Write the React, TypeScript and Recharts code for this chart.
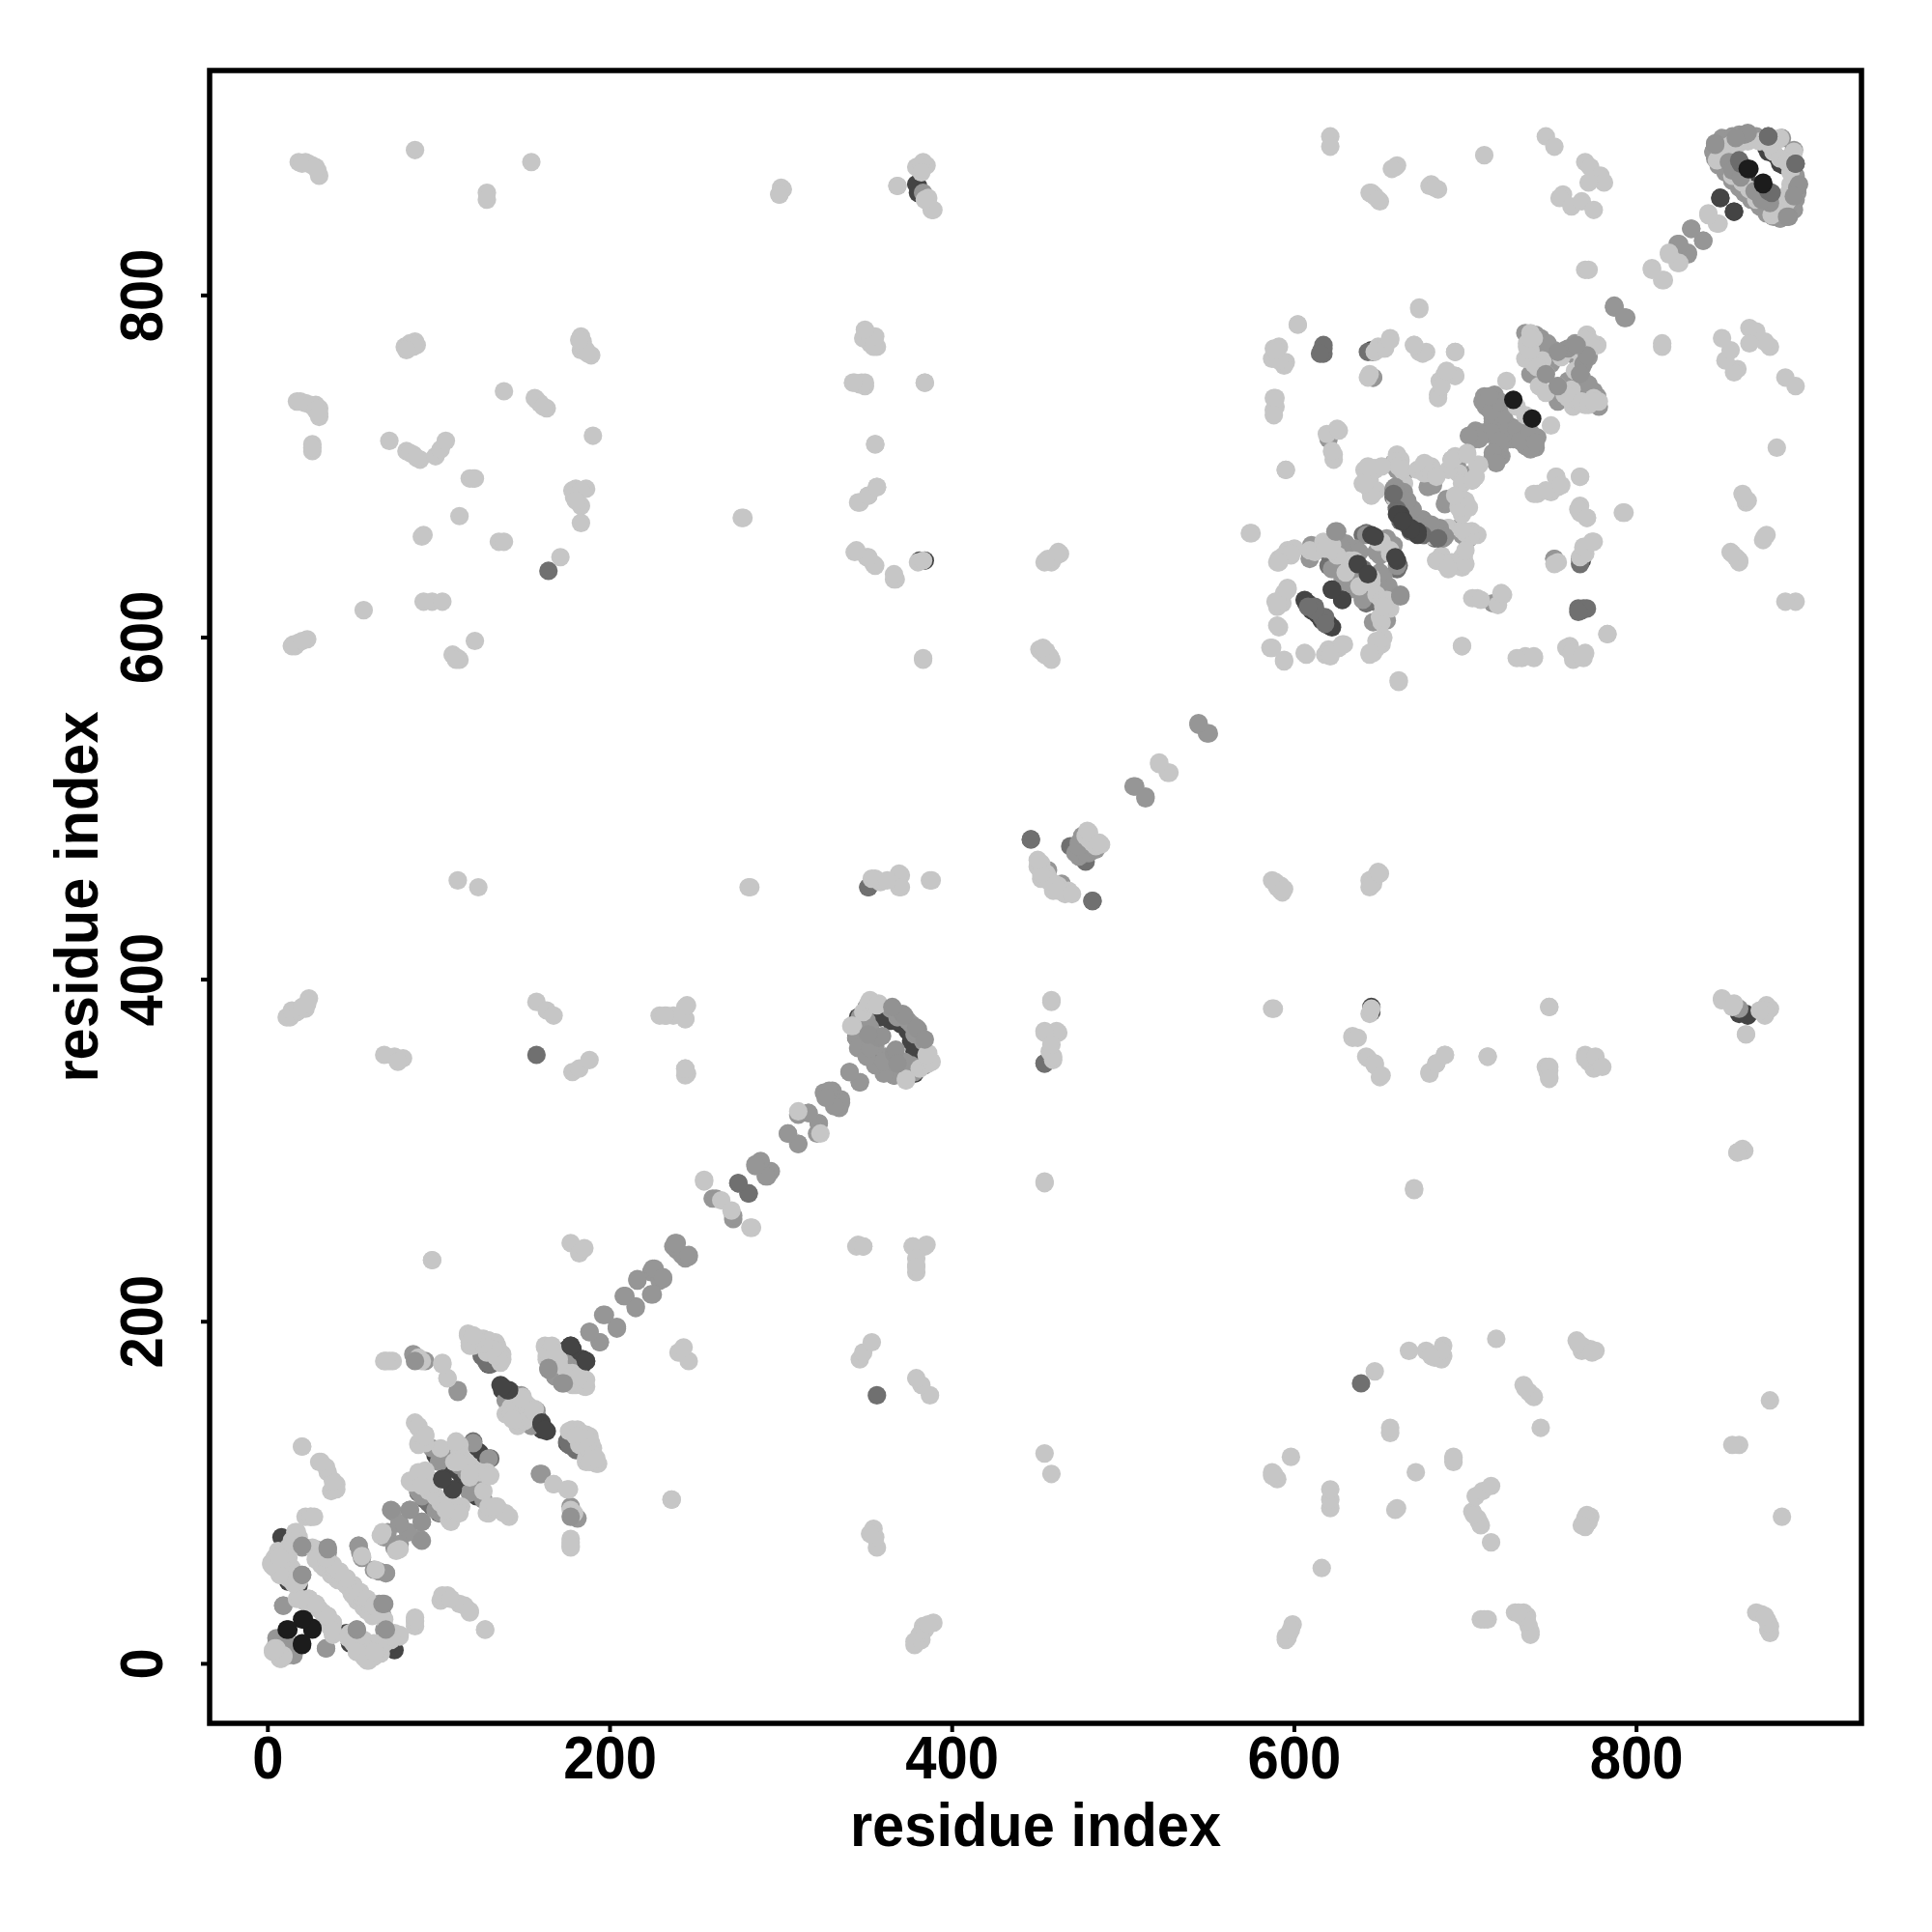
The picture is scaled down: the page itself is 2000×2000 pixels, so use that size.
import React from 'react';
import { ScatterChart, Scatter, XAxis, YAxis, ReferenceArea } from 'recharts';

type Pair = [number, number];

// Contacts between residues [i, j]; the map is symmetric, so each contact is drawn at (i,j) and (j,i).
const paleContacts: Pair[] = [
  [18,878],[22,878],[26,876],[29,873],[30,870],[20,877],[24,877],[28,875],[86,885],[128,860],[128,856],[154,878],[299,859],[301,862],
  [368,864],[379,875],[381,876],[385,876],[383,878],[389,850],[386,857],
  [17,738],[22,737],[28,736],[30,734],[30,729],[19,738],[25,736],[29,732],[28,733],[30,731],[26,713],[26,709],[26,711],[71,715],[81,709],[85,707],[89,704],[83,708],[87,705],[98,706],[101,710],[104,715],
  [118,693],[121,693],[120,693],[138,744],[156,740],[159,737],[163,734],[157,739],[161,735],[190,718],[180,687],[186,687],[179,682],[183,677],[183,667],[178,686],[183,686],[180,680],
  [91,660],[90,659],[112,671],[135,656],[138,656],[171,647],[56,616],[91,621],[96,621],[102,621],[121,598],[108,590],[111,588],[112,587],[109,589],[110,587],
  [14,595],[18,597],[23,599],[15,596],[16,595],[20,598],[80,770],[83,772],[86,773],[87,771],[82,770],[84,771],[85,770],[81,768],[183,776],[184,773],[189,765],[183,768],[184,771],[186,768],[187,766],[182,774],
  [348,775],[356,770],[349,775],[352,772],[354,770],[343,749],[347,749],[349,747],[346,748],[384,749],[355,713],[356,688],[351,683],[345,679],[278,670],
  [343,650],[350,647],[355,642],[367,634],[380,644],[383,587],[451,593],[454,590],[458,587],[455,592],[452,592],[456,589],[454,644],[459,646],[463,649],[456,646],[458,644],[461,648],
  [621,893],[621,887],[659,875],[660,876],[657,874],[644,860],[647,858],[650,855],[646,859],[645,860],[649,856],[679,864],[684,862],[680,865],[682,863],[711,882],[747,893],[752,887],
  [770,878],[773,875],[779,870],[757,859],[755,857],[762,852],[768,855],[775,850],[781,866],[772,866],[770,815],[772,815],
  [602,783],[588,769],[591,770],[595,761],[587,763],[649,770],[656,775],[652,769],[644,754],[673,793],[670,771],[673,767],[677,767],
  [694,767],[688,754],[685,750],[684,742],[694,753],[588,740],[588,733],[625,722],[619,719],[623,707],[595,698],
  [647,699],[641,698],[640,690],[645,683],[660,705],[662,703],[664,690],[659,681],[690,664],[704,662],[707,660],[677,700],[681,698],
  [642,695],[644,692],[646,698],[648,686],[643,688],[659,703],[661,700],[663,698],[672,698],[676,696],[680,700],[696,696],[698,690],[702,676],[696,680],[706,694],
  [692,704],[701,708],[707,701],[694,683],[724,750],[730,735],[735,763],[743,747],[754,747],[771,777],[777,771],[778,738],[775,740],
  [736,770],[738,766],[760,740],[762,745],[758,742],[768,738],[772,736],[775,738],[756,764],[760,768],[765,768],[770,772],[772,774],[774,770],
  [617,656],[609,651],[596,651],[591,646],[632,645],[645,635],[630,638],[649,656],[656,651],[596,629],[589,621],[590,607],[586,594],[594,587],
  [648,625],[651,622],[654,622],[598,648],[600,652],[594,648],[590,644],[593,620],[590,618],[594,626],[650,612],[652,618],
  [606,591],[621,590],[628,596],[647,593],[649,598],[644,591],[661,575],[698,595],[704,623],[709,622],[721,626],[735,589],[740,589],[730,588],
  [783,602],[759,594],[762,591],[768,589],[767,647],[769,653],[774,656],[752,643],[683,645],[690,641],[698,647],[700,643],[700,651],
  [740,684],[747,686],[753,694],[767,694],[756,689],[766,675],[771,670],[792,673],[574,661],
  [96,236],[177,246],[182,240],[185,243],[162,186],[163,178],[185,162],[180,163],[182,169],[117,192],[126,190],[133,188],[137,181],[118,186],
  [165,183],[168,180],[164,181],[170,178],[175,170],[178,166],[182,164],[186,166],[168,182],[120,190],[122,188],[124,190],[128,188],[130,186],[132,184],[134,186],[135,183],
  [71,177],[68,177],[90,177],[102,176],[105,167],[167,105],[175,102],[179,88],[177,73],[177,69],[236,96],
  [139,146],[147,142],[149,156],[142,150],[146,147],[150,145],[143,143],[152,151],[155,148],[178,137],[189,129],[193,117],[186,120],[182,128],[176,136],[180,133],[184,132],[187,126],[190,122],[188,118],[192,120],
  [86,141],[90,135],[88,129],[101,126],[109,118],[110,129],[88,128],[91,132],[88,138],[92,134],[114,120],[116,118],[118,116],[124,112],[128,112],
  [118,111],[130,110],[129,92],[139,88],[133,92],[86,107],[91,112],[83,107],[94,102],[101,94],[113,92],[106,84],[109,90],[90,108],[92,104],[98,98],[105,96],[108,94],[112,88],[104,90],
  [20,127],[30,118],[35,112],[40,105],[37,101],[25,86],[22,86],[66,75],[77,67],[55,63],
  [16,77],[2,59],[8,56],[12,52],[16,47],[6,66],[26,68],[31,58],[37,52],[43,49],[49,41],[54,37],[58,32],[74,18],[77,17],
  [29,62],[33,56],[36,54],[40,50],[46,46],[48,44],[52,40],[55,36],[57,34],[60,30],[61,28],[34,60],[38,56],[42,53],[46,50],[50,46],[54,42],[58,38],[62,34],
  [4,62],[6,58],[10,60],[8,64],[12,68],[14,72],[12,62],[14,56],[10,52],[14,50],[18,48],[4,56],[7,52],
  [50,12],[54,8],[56,5],[60,4],[55,12],[50,18],[57,3],[60,8],[64,9],[66,12],[70,14],[72,16],
  [32,30],[34,26],[36,22],[38,24],[30,32],[24,38],[3,8],[7,3],[9,5],
  [17,38],[22,37],[28,35],[35,28],[38,19],[4,9],[8,4],[47,15],[52,7],[58,2],[62,7],
  [102,40],[107,38],[115,34],[118,31],[127,20],[86,25],[86,27],
  [354,386],[348,381],[351,386],[357,386],[386,353],[388,352],[385,356],[373,342],[341,373],[323,310],[265,271],[255,283],[282,255],
  [233,379],[244,384],[244,377],[229,379],[244,348],[244,344],[345,245],[348,244],[377,244],[385,245],[379,237],[379,232],
  [13,378],[17,381],[24,389],[22,383],[11,378],[14,382],[18,382],[20,384],[23,386],[68,356],[74,355],[79,354],[76,352],[157,387],[163,382],[167,379],[178,346],[182,348],[188,353],
  [454,281],[670,277],[863,300],[859,299],[588,383],[634,366],[637,366],[645,383],[643,354],[647,351],[651,344],
  [679,346],[683,351],[688,356],[713,355],[749,384],[749,349],[749,342],[776,355],[780,349],[850,388],[856,384],[875,382],[872,382],[864,368],
  [458,387],[454,370],[461,370],[459,353],[457,358],[111,458],[123,454],[282,454],[355,459],[369,462],[369,454],[362,458],[388,458],
  [589,457],[594,453],[645,455],[650,462],[452,468],[455,462],[459,452],[466,450],[487,479],[452,466],[456,460],[458,456],[462,452],[450,470],[478,484],[482,480],[480,486],
  [521,526],[527,521],[842,848],[847,842],[847,879],[884,892],[819,825],[824,819],[809,816],[815,809],
  [848,886],[855,888],[860,892],[865,890],[880,884],[888,878],[890,872],[889,860],[886,856],[884,850],[870,856],[866,862],[858,870],[852,880],[849,882],[878,892],
];

const midContacts: Pair[] = [
  [383,860],[646,752],[681,689],[678,688],[689,680],[695,701],[704,692],[700,679],
  [672,668],[680,662],[684,660],[696,664],[698,660],[702,658],
  [625,653],[628,650],[630,655],[634,640],[636,634],[640,628],[644,628],[642,632],[636,652],[638,650],
  [707,720],[713,719],[720,711],[721,706],[711,741],[717,742],[721,733],[727,723],[735,778],[741,777],[764,772],
  [712,735],[716,728],[718,735],[722,726],[724,720],[726,716],[730,722],[735,716],[738,710],[732,715],[738,720],[741,714],[715,720],[718,706],[740,770],[744,775],[746,772],[750,766],[758,768],[762,766],[766,756],[768,752],[770,746],[772,742],[772,748],[750,760],[754,738],[742,758],[764,770],[706,716],[716,708],[702,718],
  [787,794],[793,787],[716,620],[752,646],[159,111],[177,92],[120,129],[90,98],
  [626,640],[628,636],[634,632],[632,628],[640,622],[652,628],[656,622],[610,654],[622,652],[650,648],[654,652],[658,654],[646,609],[655,618],
  [224,229],[231,225],[216,224],[225,216],[209,215],[215,208],[196,204],[204,197],[188,194],[194,188],[239,242],[244,237],[238,246],[246,239],[226,231],
  [166,172],[168,168],[172,166],[174,176],[85,181],[111,160],[157,148],[154,139],[77,82],[89,73],[82,77],[70,77],[74,68],
  [104,124],[108,120],[112,116],[122,108],[124,106],[126,96],[118,100],[88,101],[5,12],[8,10],[12,8],[14,7],[10,14],
  [53,69],[54,65],[62,55],[69,53],[35,65],[67,28],[68,20],[9,34],[34,9],[11,11],[15,5],
  [364,383],[361,355],[380,348],[344,374],[344,366],[346,378],[345,360],[352,362],[368,378],[374,376],[380,368],[372,352],[376,350],[384,350],[355,350],[360,352],
  [340,346],[346,340],[325,334],[330,335],[335,328],[331,326],[310,321],[316,322],[322,316],[304,310],[310,304],
  [288,293],[294,288],[285,292],[291,285],[260,272],[272,262],[464,456],[507,513],[513,506],[544,549],[550,544],[472,474],[474,480],[478,474],[484,476],
  [845,884],[856,893],[880,846],[832,839],[839,832],[824,830],[830,825],[787,793],[892,885],
  [868,892],[848,880],[851,876],[856,871],[859,866],[863,860],[867,856],[872,852],[876,848],[884,845],[892,850],[890,854],[894,860],[893,870],
];

const slateContacts: Pair[] = [
  [164,639],[157,356],[454,351],[617,769],[617,766],[646,767],[768,616],[771,617],[766,615],[767,643],[745,768],[642,661],[130,120],[175,130],
  [96,92],[446,482],[469,478],[476,476],[482,446],[351,454],[275,281],[281,275],[620,642],[621,647],
  [666,666],[672,664],[682,658],[624,645],[626,644],[640,640],[646,630],[650,624],[612,618],[616,612],[618,608],[640,660],[654,650],
  [738,772],[744,770],[768,746],[770,740],[764,752],[88,100],[92,96],[94,94],[142,158],[146,156],[156,142],[148,146],[125,180],[127,178],[131,176],[176,128],
];

const darkContacts: Pair[] = [
  [380,864],[645,768],[650,769],[606,622],[610,618],[614,613],[645,622],[638,628],
  [129,175],[124,123],[9,72],[68,11],
  [384,645],[860,380],[865,379],[645,381],[348,361],[884,877],
  [346,368],[348,372],[350,358],[355,354],[362,348],[366,344],[372,344],[378,345],[364,376],[370,374],[376,368],[382,360],[382,352],[358,378],
  [608,620],[612,615],[616,610],[620,607],[640,638],[648,622],[676,660],[768,742],[738,774],
  [102,122],[106,116],[112,112],[114,108],[120,100],[122,98],[158,143],[143,158],[137,160],[178,184],[175,184],[184,178],
  [10,68],[10,70],[8,74],[12,48],[18,46],[66,9],[70,12],[64,6],[70,11],
  [846,886],[850,888],[852,883],[858,876],[862,864],[866,861],[870,864],[876,886],[880,883],[885,848],[880,849],
];

// Marks lying over the pale ones.
const upperGreyContacts: Pair[] = [
  [846,889],[854,878],[863,894],[895,865],[892,858],[888,846],[873,856],[861,869],
  [357,366],[371,380],[367,359],[379,372],[384,365],[368,351],
  [625,662],[660,642],[662,624],[769,760],[754,767],[747,754],[771,765],
  [20,52],[20,69],[35,68],[67,35],[52,20],[72,90],[83,90],[90,83],[164,173],[172,164],[86,177],
  [664,685],[669,675],[675,669],[658,687],[677,661],[688,659],[666,680],
];
const upperSlateContacts: Pair[] = [[893,877],[877,893],[877,861],[860,879],[660,675],[658,684],[662,668]];
const upperDarkContacts: Pair[] = [
  [645,660],[637,643],[659,647],[622,628],[628,622],[662,672],[660,672],[664,668],[668,663],
  [102,108],[108,102],[136,163],[140,160],[160,141],[162,137],[177,186],[186,177],[849,857],[857,849],
];
const blackContacts: Pair[] = [[728,739],[865,874],[874,866],[21,26],[11,20],[26,20],[20,12]];

const tickValues = [0, 200, 400, 600, 800];
const xDomain: [number, number] = [-34.05, 931.5];
const yDomain: [number, number] = [-34.8, 931.5];

const both = (pairs: Pair[]) => pairs.flatMap(([i, j]) => [{ x: i, y: j }, { x: j, y: i }]);

const font = '"Liberation Sans", Arial, sans-serif';

const dot = (fill: string) => (p: any) => <circle cx={p.cx} cy={p.cy} r={9.6} fill={fill} />;

const XTick = (p: any) => (
  <text
    transform={`translate(${p.x},${p.y + 46}) scale(1,1.1)`}
    textAnchor="middle"
    fontFamily={font}
    fontWeight="bold"
    fontSize={58}
    fill="#000"
  >
    {p.payload.value}
  </text>
);
const YTick = (p: any) => (
  <text
    transform={`translate(${p.x - 38},${p.y}) rotate(-90) scale(1,1.1)`}
    textAnchor="middle"
    fontFamily={font}
    fontWeight="bold"
    fontSize={58}
    fill="#000"
  >
    {p.payload.value}
  </text>
);

const XLabel = (p: any) => (
  <text
    transform={`translate(${p.viewBox.x + p.viewBox.width / 2},1911) scale(1,1.06)`}
    textAnchor="middle"
    fontFamily={font}
    fontWeight="bold"
    fontSize={59.6}
    fill="#000"
  >
    residue index
  </text>
);
const YLabel = (p: any) => (
  <text
    transform={`translate(101,${p.viewBox.y + p.viewBox.height / 2}) rotate(-90) scale(1,1.06)`}
    textAnchor="middle"
    fontFamily={font}
    fontWeight="bold"
    fontSize={59.6}
    fill="#000"
  >
    residue index
  </text>
);

const series: [string, Pair[], string][] = [
  ['dark', darkContacts, '#444444'],
  ['slate', slateContacts, '#707070'],
  ['mid', midContacts, '#969696'],
  ['pale', paleContacts, '#c6c6c6'],
  ['upperGrey', upperGreyContacts, '#929292'],
  ['upperSlate', upperSlateContacts, '#6c6c6c'],
  ['upperDark', upperDarkContacts, '#444444'],
  ['black', blackContacts, '#1c1c1c'],
];

export default function App() {
  return (
    <div style={{ position: 'absolute', left: 0, top: 0, background: '#fff' }}>
      <ScatterChart width={2000} height={2000} margin={{ top: 73, right: 73, bottom: 0, left: 0 }}>
        <XAxis
          type="number"
          dataKey="x"
          domain={xDomain}
          ticks={tickValues}
          allowDataOverflow
          height={216}
          axisLine={false}
          tickSize={9}
          tickLine={{ stroke: '#000', strokeWidth: 4 }}
          tick={<XTick />}
          interval={0}
          label={<XLabel />}
        />
        <YAxis
          type="number"
          dataKey="y"
          domain={yDomain}
          ticks={tickValues}
          allowDataOverflow
          width={217}
          axisLine={false}
          tickSize={9}
          tickLine={{ stroke: '#000', strokeWidth: 4 }}
          tick={<YTick />}
          interval={0}
          label={<YLabel />}
        />
        {series.map(([name, pairs, fill]) => (
          <Scatter key={name} name={name} data={both(pairs)} isAnimationActive={false} shape={dot(fill)} />
        ))}
        <ReferenceArea
          x1={xDomain[0]}
          x2={xDomain[1]}
          y1={yDomain[0]}
          y2={yDomain[1]}
          fill="none"
          stroke="#000"
          strokeWidth={5.5}
          ifOverflow="visible"
        />
      </ScatterChart>
    </div>
  );
}
